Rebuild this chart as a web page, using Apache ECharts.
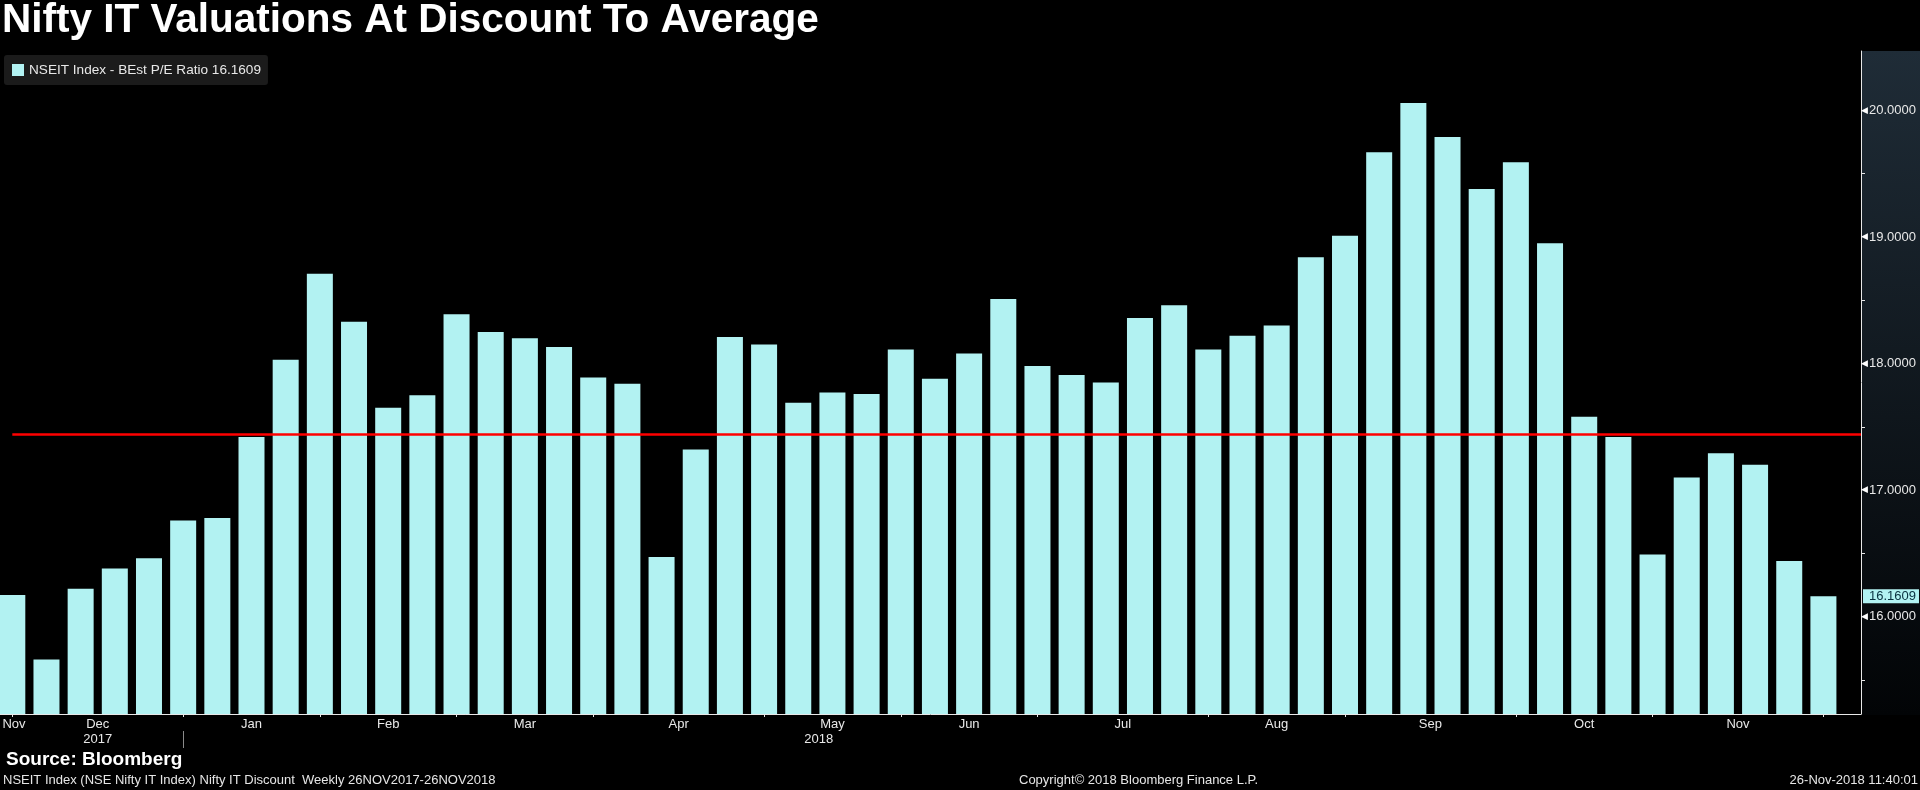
<!DOCTYPE html>
<html>
<head>
<meta charset="utf-8">
<script src="https://cdn.jsdelivr.net/npm/echarts@6/dist/echarts.min.js"></script>
<style>
html,body{margin:0;padding:0;background:#000;}
#chart{width:1920px;height:790px;}
</style>
</head>
<body>
<div id="chart"></div>
<script>
// ---- data ----
var seriesName = 'NSEIT Index - BEst P/E Ratio 16.1609';
var peValues = [16.17, 15.66, 16.22, 16.38, 16.46, 16.76, 16.78, 17.42, 18.03, 18.71,
                18.33, 17.65, 17.75, 18.39, 18.25, 18.20, 18.13, 17.89, 17.84, 16.47,
                17.32, 18.21, 18.15, 17.69, 17.77, 17.76, 18.11, 17.88, 18.08, 18.51,
                17.98, 17.91, 17.85, 18.36, 18.46, 18.11, 18.22, 18.30, 18.84, 19.01,
                19.67, 20.06, 19.79, 19.38, 19.59, 18.95, 17.58, 17.42, 16.49, 17.10,
                17.29, 17.20, 16.44, 16.1609];
var averageValue = 17.44;
var lastValue = 16.1609;
var monthTicks = [0, 5, 9, 13, 17, 22, 26, 30, 35, 39, 44, 48, 53];
var monthNames = ['Dec', 'Jan', 'Feb', 'Mar', 'Apr', 'May', 'Jun', 'Jul', 'Aug', 'Sep', 'Oct', 'Nov'];
var leadingMonth = 'Nov';
var yearLabels = ['2017', '2018'];
var yearPos = [2.5, 23.6];
var yearBreak = [5];
var yTickLabels = [16, 17, 18, 19, 20];
var yMinorTicks = [15.5, 16.5, 17.5, 18.5, 19.5];

// ---- derived ----
var XMIN = -0.36, XMAX = 54.1;
var barData = peValues.map(function (v, i) { return [i, v]; });
var labelPos = [0.05];
var labelText = {};
labelText[0.05] = leadingMonth;
for (var k = 0; k < monthNames.length; k++) {
  var c = (monthTicks[k] + monthTicks[k + 1]) / 2;
  labelPos.push(c);
  labelText[c] = monthNames[k];
}
var yearText = {};
yearPos.forEach(function (p, i) { yearText[p] = yearLabels[i]; });

var FONT = 'Liberation Sans';
var chart = echarts.init(document.getElementById('chart'), null, {renderer: 'canvas'});
chart.setOption({
  backgroundColor: '#000000',
  animation: false,
  textStyle: {fontFamily: FONT},
  title: [
    {text: 'Nifty IT Valuations At Discount To Average', left: 2, top: 0, padding: 0,
     textStyle: {color: '#ffffff', fontSize: 40.5, fontWeight: 'bold', fontFamily: FONT}},
    {text: 'Source: Bloomberg', left: 6, top: 750, padding: 0,
     textStyle: {color: '#ffffff', fontSize: 19, fontWeight: 'bold', fontFamily: FONT}},
    {text: 'NSEIT Index (NSE Nifty IT Index) Nifty IT Discount  Weekly 26NOV2017-26NOV2018', left: 3, top: 774, padding: 0,
     textStyle: {color: '#e6e6e6', fontSize: 13, fontWeight: 'normal', fontFamily: FONT}},
    {text: 'Copyright\u00a9 2018 Bloomberg Finance L.P.', left: 1019, top: 774, padding: 0,
     textStyle: {color: '#e6e6e6', fontSize: 13, fontWeight: 'normal', fontFamily: FONT}},
    {text: '26-Nov-2018 11:40:01', right: 2, top: 774, padding: 0,
     textStyle: {color: '#e6e6e6', fontSize: 13, fontWeight: 'normal', fontFamily: FONT}}
  ],
  legend: {
    data: [seriesName], left: 4, top: 55, padding: [8, 7, 8, 8],
    backgroundColor: '#1b1b1b', borderRadius: 3,
    icon: 'rect', itemWidth: 12, itemHeight: 12, itemGap: 4,
    textStyle: {color: '#e8e8e8', fontSize: 13.6, fontFamily: FONT},
    selectedMode: false
  },
  graphic: [{
    type: 'rect', z: -10, silent: true,
    shape: {x: 1862, y: 51, width: 58, height: 664},
    style: {fill: new echarts.graphic.LinearGradient(0, 0, 0, 1, [
      {offset: 0, color: '#1f2c37'}, {offset: 1, color: '#020406'}])}
  }],
  grid: {left: 0, right: 59, top: 51, bottom: 76, containLabel: false, outerBoundsMode: 'none'},
  xAxis: [{
    type: 'value', min: XMIN, max: XMAX, position: 'bottom',
    axisLine: {show: true, onZero: false, lineStyle: {color: '#e8e8e8', width: 1}},
    axisTick: {show: true, customValues: monthTicks, length: 3, lineStyle: {color: '#e8e8e8'}},
    axisLabel: {show: true, customValues: labelPos, margin: 4, color: '#e8e8e8', fontSize: 13, fontFamily: FONT,
      formatter: function (v) { return labelText[v] || ''; }},
    splitLine: {show: false}
  }, {
    type: 'value', min: XMIN, max: XMAX, position: 'bottom', offset: 17,
    axisLine: {show: false, onZero: false},
    axisTick: {show: true, customValues: yearBreak, length: 17, lineStyle: {color: '#8a8a8a'}},
    axisLabel: {show: true, customValues: yearPos, margin: 2, color: '#e8e8e8', fontSize: 13, fontFamily: FONT,
      formatter: function (v) { return yearText[v] || ''; }},
    splitLine: {show: false}
  }],
  yAxis: {
    type: 'value', position: 'right', min: 15.23, max: 20.47,
    axisLine: {show: true, onZero: false, lineStyle: {color: '#e8e8e8', width: 1}},
    axisTick: {show: true, customValues: yMinorTicks, length: 4, lineStyle: {color: '#e8e8e8'}},
    axisLabel: {show: true, customValues: yTickLabels, margin: 0, color: '#e8e8e8', fontFamily: FONT,
      formatter: function (v) { return '{t|\u25C0}{v|' + v.toFixed(4) + '}'; },
      rich: {t: {fontSize: 9, color: '#ffffff', fontFamily: 'DejaVu Sans', padding: [0, 0, 0, 0]},
             v: {fontSize: 13, color: '#e8e8e8', fontFamily: FONT, padding: [0, 0, 0, 1]}}},
    splitLine: {show: false}
  },
  series: [{
    name: seriesName, type: 'bar', xAxisIndex: 0, data: barData, barWidth: 26,
    itemStyle: {color: '#b2f2f2'},
    markLine: {
      silent: true, symbol: ['none', 'none'], animation: false,
      data: [
        [{coord: [0, averageValue], lineStyle: {color: '#ff0000', width: 2.5, type: 'solid'}, label: {show: false}},
         {coord: [XMAX, averageValue]}],
        [{coord: [XMAX - 0.01, lastValue], lineStyle: {color: 'rgba(0,0,0,0)', width: 1},
          label: {show: true, position: 'end', distance: 2, formatter: lastValue.toFixed(4),
                  backgroundColor: '#b2f2f2', color: '#08303f', fontSize: 13, fontFamily: FONT,
                  padding: [1, 3, 0, 6]}},
         {coord: [XMAX, lastValue]}]
      ]
    }
  }]
});
</script>
</body>
</html>
